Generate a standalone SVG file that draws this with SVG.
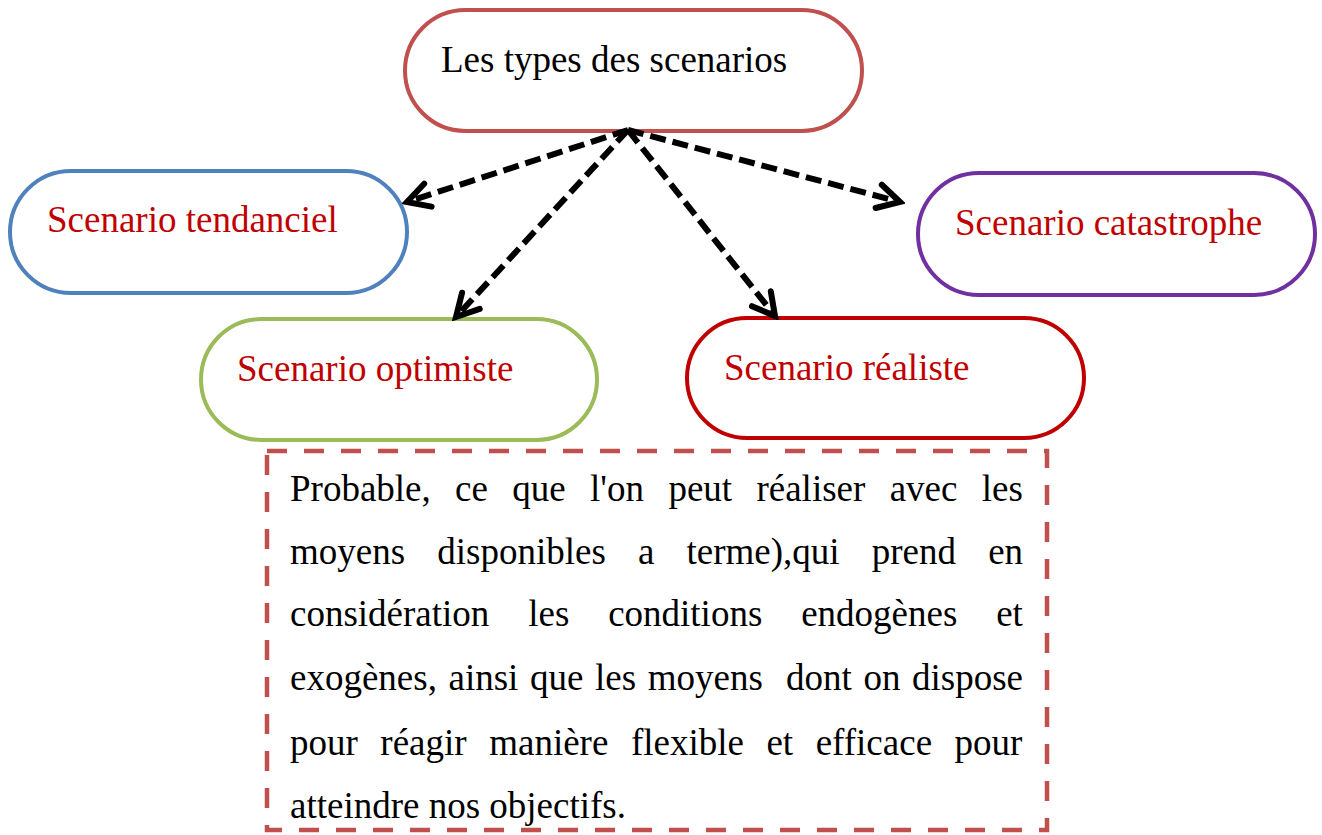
<svg xmlns="http://www.w3.org/2000/svg" width="1322" height="835" viewBox="0 0 1322 835">
<style>
.node{fill:#fff;stroke-width:4}
.lbl{font-family:"Liberation Serif","Times New Roman",serif;font-size:37px;fill:#C00000}
.body{font-family:"Liberation Serif","Times New Roman",serif;font-size:37px;fill:#000;font-variant-ligatures:none}
.conn{fill:none;stroke:#000;stroke-width:6;stroke-dasharray:16 7}
.box{stroke:#C0504D;stroke-width:4.5;fill:none;stroke-dasharray:20 17}
</style>
<defs>
<marker id="open" viewBox="0 0 32 32" markerUnits="userSpaceOnUse" markerWidth="32" markerHeight="32" refX="27" refY="16" orient="auto">
<path d="M5,4 L27,16 L5,28" fill="none" stroke="#000" stroke-width="6" stroke-linecap="round" stroke-linejoin="miter"/>
</marker>
</defs>
<rect width="1322" height="835" fill="#fff"/>
<g id="root">
<rect class="node" x="405" y="10" width="457" height="121" rx="60.5" stroke="#C0504D"/>
<text x="441" y="72" class="lbl" style="fill:#000">Les types des scenarios</text>
</g>
<g id="tendanciel">
<rect class="node" x="10" y="171" width="397" height="122" rx="61" stroke="#4F81BD"/>
<text x="47" y="232" class="lbl">Scenario tendanciel</text>
</g>
<g id="catastrophe">
<rect class="node" x="918" y="173" width="397" height="122" rx="61" stroke="#7030A0"/>
<text x="955" y="235" class="lbl">Scenario catastrophe</text>
</g>
<g id="optimiste">
<rect class="node" x="201" y="319" width="396" height="121" rx="60.5" stroke="#9BBB59"/>
<text x="237" y="381" class="lbl">Scenario optimiste</text>
</g>
<g id="realiste">
<rect class="node" x="687" y="318" width="397" height="120" rx="60" stroke="#C00000"/>
<text x="724" y="380" class="lbl">Scenario réaliste</text>
</g>
<g id="connectors">
<line class="conn" x1="628" y1="130" x2="407" y2="202" marker-end="url(#open)"/>
<line class="conn" x1="628" y1="130" x2="456" y2="317" marker-end="url(#open)"/>
<line class="conn" x1="628" y1="130" x2="775" y2="316" marker-end="url(#open)"/>
<line class="conn" x1="628" y1="130" x2="900" y2="202" marker-end="url(#open)"/>
</g>
<g id="description">
<rect class="box" x="267" y="451" width="780" height="379"/>
<text class="body" x="290" y="501" word-spacing="15.1">Probable, ce que l'on peut réaliser avec les</text>
<text class="body" x="290" y="564" word-spacing="22.9">moyens disponibles a terme),qui prend en</text>
<text class="body" x="290" y="626" word-spacing="29.6">considération les conditions endogènes et</text>
<text class="body" x="290" y="690" word-spacing="2.35" style="white-space:pre">exogènes, ainsi que les moyens  dont on dispose</text>
<text class="body" x="290" y="755" word-spacing="13.3">pour réagir manière flexible et efficace pour</text>
<text class="body" x="290" y="818">atteindre nos objectifs.</text>
</g>
</svg>
